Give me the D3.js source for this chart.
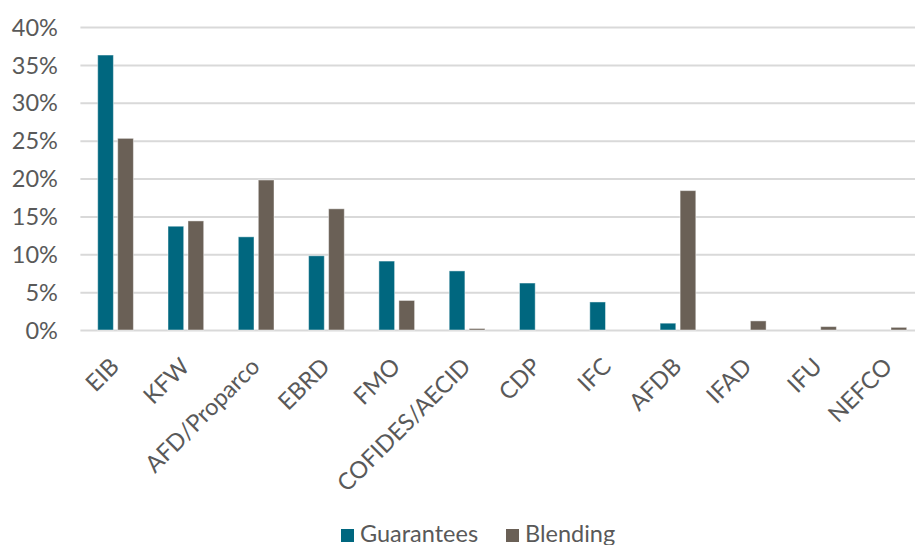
<!DOCTYPE html>
<html>
<head>
<meta charset="utf-8">
<script src="https://cdn.jsdelivr.net/npm/d3@7"></script>
<style>
  html, body { margin: 0; padding: 0; background: #fff; }
  svg { display: block; }
  text { font-family: Lato, "Open Sans", sans-serif; fill: #595959; }
</style>
</head>
<body>
<svg id="chart" width="915" height="545"></svg>
<script>
const categories = ["EIB", "KFW", "AFD/Proparco", "EBRD", "FMO", "COFIDES/AECID", "CDP", "IFC", "AFDB", "IFAD", "IFU", "NEFCO"];
const guarantees = [36.3, 13.7, 12.3, 9.8, 9.1, 7.8, 6.2, 3.7, 0.9, 0, 0, 0];
const blending   = [25.3, 14.4, 19.8, 16.0, 3.9, 0.2, 0, 0, 18.4, 1.2, 0.45, 0.35];
const yTicks = [0, 5, 10, 15, 20, 25, 30, 35, 40];
const seriesNames = ["Guarantees", "Blending"];
const seriesColors = ["#00677f", "#6a6056"];

const svg = d3.select("#chart");
const mTop = 27, mBottom = 330, mLeft = 80.4, mRight = 924;
const fontPx = "23.5px";

const y = d3.scaleLinear().domain([0, 40]).range([mBottom, mTop]);
const x0 = d3.scaleBand().domain(categories).range([mLeft, mRight]).paddingInner(0).paddingOuter(0);
const x1 = d3.scaleBand().domain(seriesNames).range([0, x0.bandwidth()]).paddingInner(0.215).paddingOuter(0.865);

// gridlines
const yAxis = d3.axisLeft(y).tickValues(yTicks).tickSize(-(mRight - mLeft)).tickFormat(d => d + "%");
const gy = svg.append("g").attr("transform", `translate(${mLeft},0)`).call(yAxis);
gy.select(".domain").remove();
gy.selectAll(".tick line").attr("stroke", "#d9d9d9").attr("stroke-width", 2);
gy.selectAll(".tick text").attr("x", -22.5).attr("dy", "0.35em")
  .style("font-size", fontPx).style("fill", "#595959");

// bars
const data = categories.map((c, i) => ({ cat: c, vals: [guarantees[i], blending[i]] }));
const groups = svg.append("g").selectAll("g").data(data).join("g")
  .attr("transform", d => `translate(${x0(d.cat)},0)`);
groups.selectAll("rect")
  .data(d => d.vals.map((v, j) => ({ name: seriesNames[j], v, color: seriesColors[j] })).filter(e => e.v > 0))
  .join("rect")
  .attr("x", d => x1(d.name))
  .attr("width", x1.bandwidth())
  .attr("y", d => y(d.v))
  .attr("height", d => y(0) - y(d.v))
  .attr("fill", d => d.color)
  .attr("stroke", "rgba(255,255,255,0.45)")
  .attr("stroke-width", 1);

// x labels
const xAxis = d3.axisBottom(x0).tickSize(0).tickPadding(0);
const gx = svg.append("g").attr("transform", `translate(0,${mBottom})`).call(xAxis);
gx.select(".domain").remove();
gx.selectAll(".tick text")
  .attr("text-anchor", "end")
  .attr("transform", "translate(5,38) rotate(-45)")
  .attr("y", 0).attr("dy", 0)
  .style("font-size", fontPx).style("fill", "#595959");

// legend
const legendItems = [
  { name: seriesNames[0], color: seriesColors[0], x: 341 },
  { name: seriesNames[1], color: seriesColors[1], x: 506 }
];
const lg = svg.append("g");
legendItems.forEach(it => {
  lg.append("rect").attr("x", it.x).attr("y", 529).attr("width", 13).attr("height", 13).attr("fill", it.color);
  lg.append("text").attr("x", it.x + 19).attr("y", 542).text(it.name).style("font-size", fontPx);
});
</script>
</body>
</html>
